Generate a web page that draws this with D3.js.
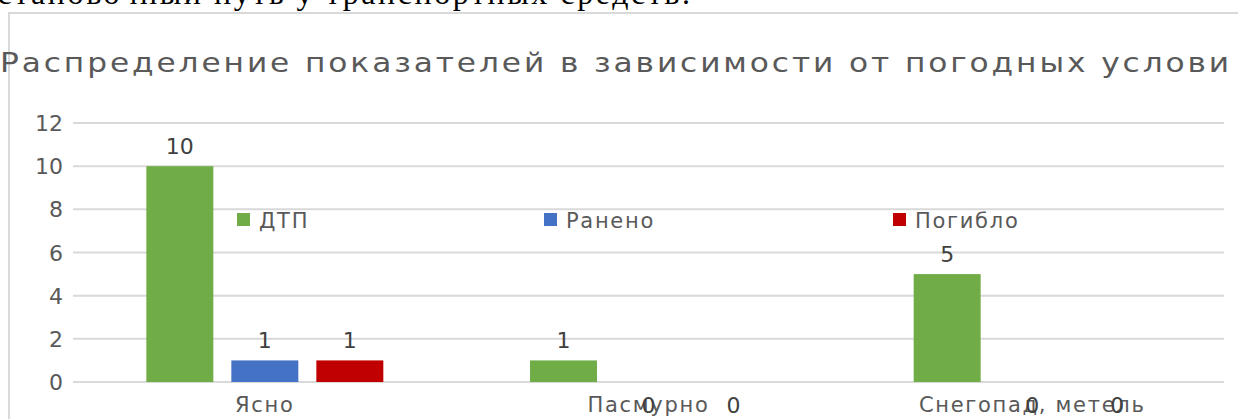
<!DOCTYPE html>
<html>
    <head>
        <meta charset="utf-8">
        <title>Распределение показателей</title>
        <script src="https://d3js.org/d3.v7.min.js"></script>
        <style>
            body {
                margin: 0;
                background-color: white;
            }

            #myCanvas {
                display: block;
            }

            text {
                font-family: "DejaVu Sans", sans-serif;
                fill: #595959;
            }

            .serif {
                font-family: "Liberation Serif", "DejaVu Serif", serif;
                fill: black;
            }

            .label {
                fill: #404040;
            }
        </style>
    </head>

    <body>
        <svg id="myCanvas" width="1238" height="419"></svg>

        <script>
            // data
            var categories = ["Ясно", "Пасмурно", "Снегопад, метель"];
            var series = ["ДТП", "Ранено", "Погибло"];
            var dtp = [10, 1, 5];
            var raneno = [1, 0, 0];
            var pogiblo = [1, 0, 0];
            var yTicks = [0, 2, 4, 6, 8, 10, 12];
            var colors = ["#70ad47", "#4472c4", "#c00000"];

            var values = [dtp, raneno, pogiblo];

            var svg = d3.select("#myCanvas");

            // bit of the document text above the chart frame
            svg.append("text")
                .attr("class", "serif")
                .attr("x", -22)
                .attr("y", 4)
                .attr("font-size", 32)
                .attr("textLength", 712)
                .attr("lengthAdjust", "spacing")
                .text("остановочный путь у транспортных средств.");

            // chart frame
            svg.append("path")
                .attr("d", "M9,419 V13 H1238")
                .attr("fill", "none")
                .attr("stroke", "#d9d9d9")
                .attr("stroke-width", 2);

            svg.append("text")
                .attr("x", 0)
                .attr("y", 72)
                .attr("font-size", 27)
                .attr("letter-spacing", 2.5)
                .attr("textLength", 1232)
                .attr("lengthAdjust", "spacingAndGlyphs")
                .text("Распределение показателей в зависимости от погодных услови");

            var plotL = 73, plotR = 1224, plotT = 123, plotB = 382;

            var y = d3.scaleLinear([0, 12], [plotB, plotT]);
            var x0 = d3.scaleBand(categories, [plotL, plotR]);
            var x1 = d3.scaleBand(series, [-127.5, 127.5])
                .paddingInner(0.212)
                .paddingOuter(0.106);

            // grid
            svg.append("g")
                .selectAll("line")
                .data(yTicks)
                .join("line")
                .attr("x1", plotL)
                .attr("x2", plotR)
                .attr("y1", d => y(d))
                .attr("y2", d => y(d))
                .attr("stroke", "#d9d9d9")
                .attr("stroke-width", 2);

            svg.append("g")
                .selectAll("text")
                .data(yTicks)
                .join("text")
                .attr("x", 63)
                .attr("y", d => y(d) + 8)
                .attr("text-anchor", "end")
                .attr("font-size", 22)
                .text(d => d);

            var bars = [];
            series.forEach((s, i) => {
                categories.forEach((c, j) => {
                    bars.push({ s: s, c: c, v: values[i][j], color: colors[i] });
                });
            });

            var cx = d => x0(d.c) + x0.bandwidth() / 2 + x1(d.s);

            svg.append("g")
                .selectAll("rect")
                .data(bars.filter(d => d.v > 0))
                .join("rect")
                .attr("x", d => cx(d))
                .attr("y", d => y(d.v))
                .attr("width", x1.bandwidth())
                .attr("height", d => y(0) - y(d.v))
                .attr("fill", d => d.color);

            // category labels
            svg.append("g")
                .selectAll("text")
                .data(categories)
                .join("text")
                .attr("x", d => x0(d) + x0.bandwidth() / 2)
                .attr("y", 412)
                .attr("text-anchor", "middle")
                .attr("font-size", 21)
                .attr("letter-spacing", 1.7)
                .text(d => d);

            // value labels (zeros end up below the axis, like the original)
            svg.append("g")
                .selectAll("text")
                .data(bars)
                .join("text")
                .attr("class", "label")
                .attr("x", d => cx(d) + x1.bandwidth() / 2)
                .attr("y", d => d.v > 0 ? y(d.v) - 12 : y(0) + 31)
                .attr("text-anchor", "middle")
                .attr("font-size", 22)
                .text(d => d.v);

            // legend
            var legendX = [237, 544, 893];
            var legend = svg.append("g")
                .selectAll("g")
                .data(series)
                .join("g")
                .attr("transform", (d, i) => "translate(" + legendX[i] + ",213)");

            legend.append("rect")
                .attr("width", 13)
                .attr("height", 13)
                .attr("fill", (d, i) => colors[i]);

            legend.append("text")
                .attr("x", 22)
                .attr("y", 15)
                .attr("font-size", 21)
                .attr("letter-spacing", 1.7)
                .text(d => d);
        </script>
    </body>
</html>
